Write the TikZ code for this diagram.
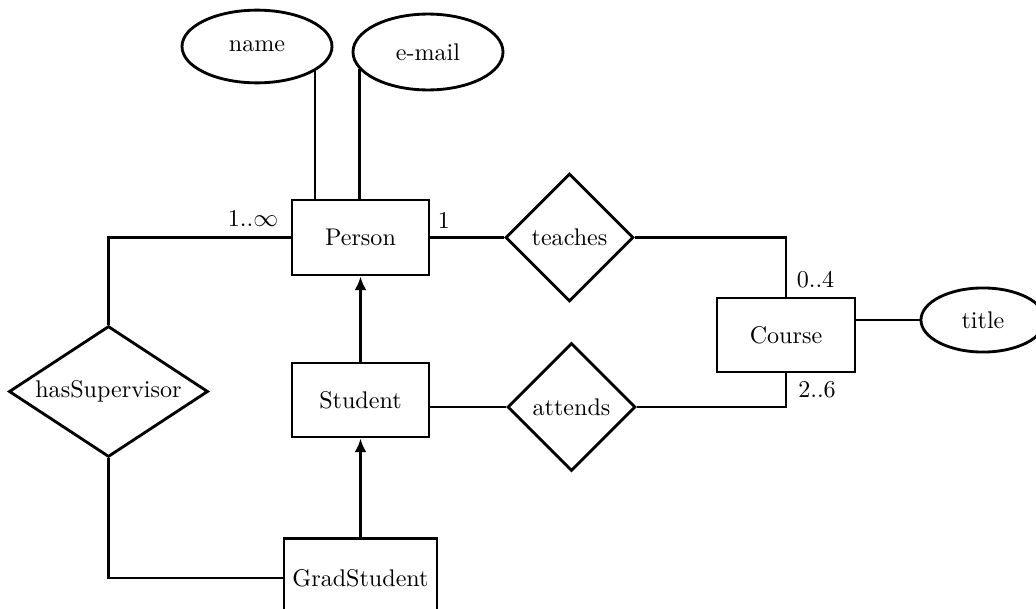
\documentclass[tikz,border=0pt]{standalone}
\usetikzlibrary{shapes.geometric,arrows.meta}
\begin{document}
\begin{tikzpicture}[x=0.44pt,y=-0.44pt, line width=1.25pt,
  every node/.style={font=\fontsize{10.6}{12.7}\selectfont},
  entity/.style={draw, rectangle, inner sep=0pt},
  rel/.style={draw, diamond, inner sep=0pt},
  attr/.style={draw, ellipse, inner sep=0pt},
  card/.style={inner sep=0pt},
  isa/.style={-{Latex[length=6pt,width=5.2pt]}}]
\clip (0,0) rectangle (1036,609);
\node[entity, minimum width=60.3pt, minimum height=33pt] (person) at (360.5,237.5) {Person};
\node[entity, minimum width=60.3pt, minimum height=32.6pt] (student) at (360.5,400) {Student};
\node[entity, minimum width=67.3pt, minimum height=34.5pt] (grad) at (360.5,578) {GradStudent};
\node[entity, minimum width=60.7pt, minimum height=32.6pt] (course) at (786,335) {Course};
\node[rel, minimum size=56.3pt] (teaches) at (569.5,237.5) {teaches};
\node[rel, minimum size=56.3pt] (attends) at (571.5,407) {attends};
\node[rel, aspect=1.5, minimum width=87.6pt, minimum height=57.6pt] (hs) at (108.5,391.5) {hasSupervisor};
\node[attr, minimum width=66pt, minimum height=32pt] (name) at (257,46.5) {name};
\node[attr, minimum width=66pt, minimum height=33.4pt] (email) at (428,52) {e-mail};
\node[attr, minimum width=54.6pt, minimum height=28.2pt] (title) at (983,320) {title};

\draw (person.west) -| (hs.north);
\draw (hs.south) |- (grad.west);
\draw (person.east) -- (teaches.west);
\draw (teaches.east) -| (course.north);
\draw (attends.east) -| (course.south);
\draw (attends.west) -- (attends.west -| student.east);
\draw (title.west) -- (title.west -| course.east);
\draw[isa] (student.north) -- (person.south);
\draw[isa] (grad.north) -- (student.south);
\draw (name.-23) -- (name.-23 |- person.north);
\draw (email.194) -- (email.194 |- person.north);

\node[card] (c1) at (253,218) {1..$\infty$};
\node[card] (c2) at (444,220) {1};
\node[card] (c3) at (815.5,280) {0..4};
\node[card] (c4) at (817,390) {2..6};
\end{tikzpicture}
\end{document}
